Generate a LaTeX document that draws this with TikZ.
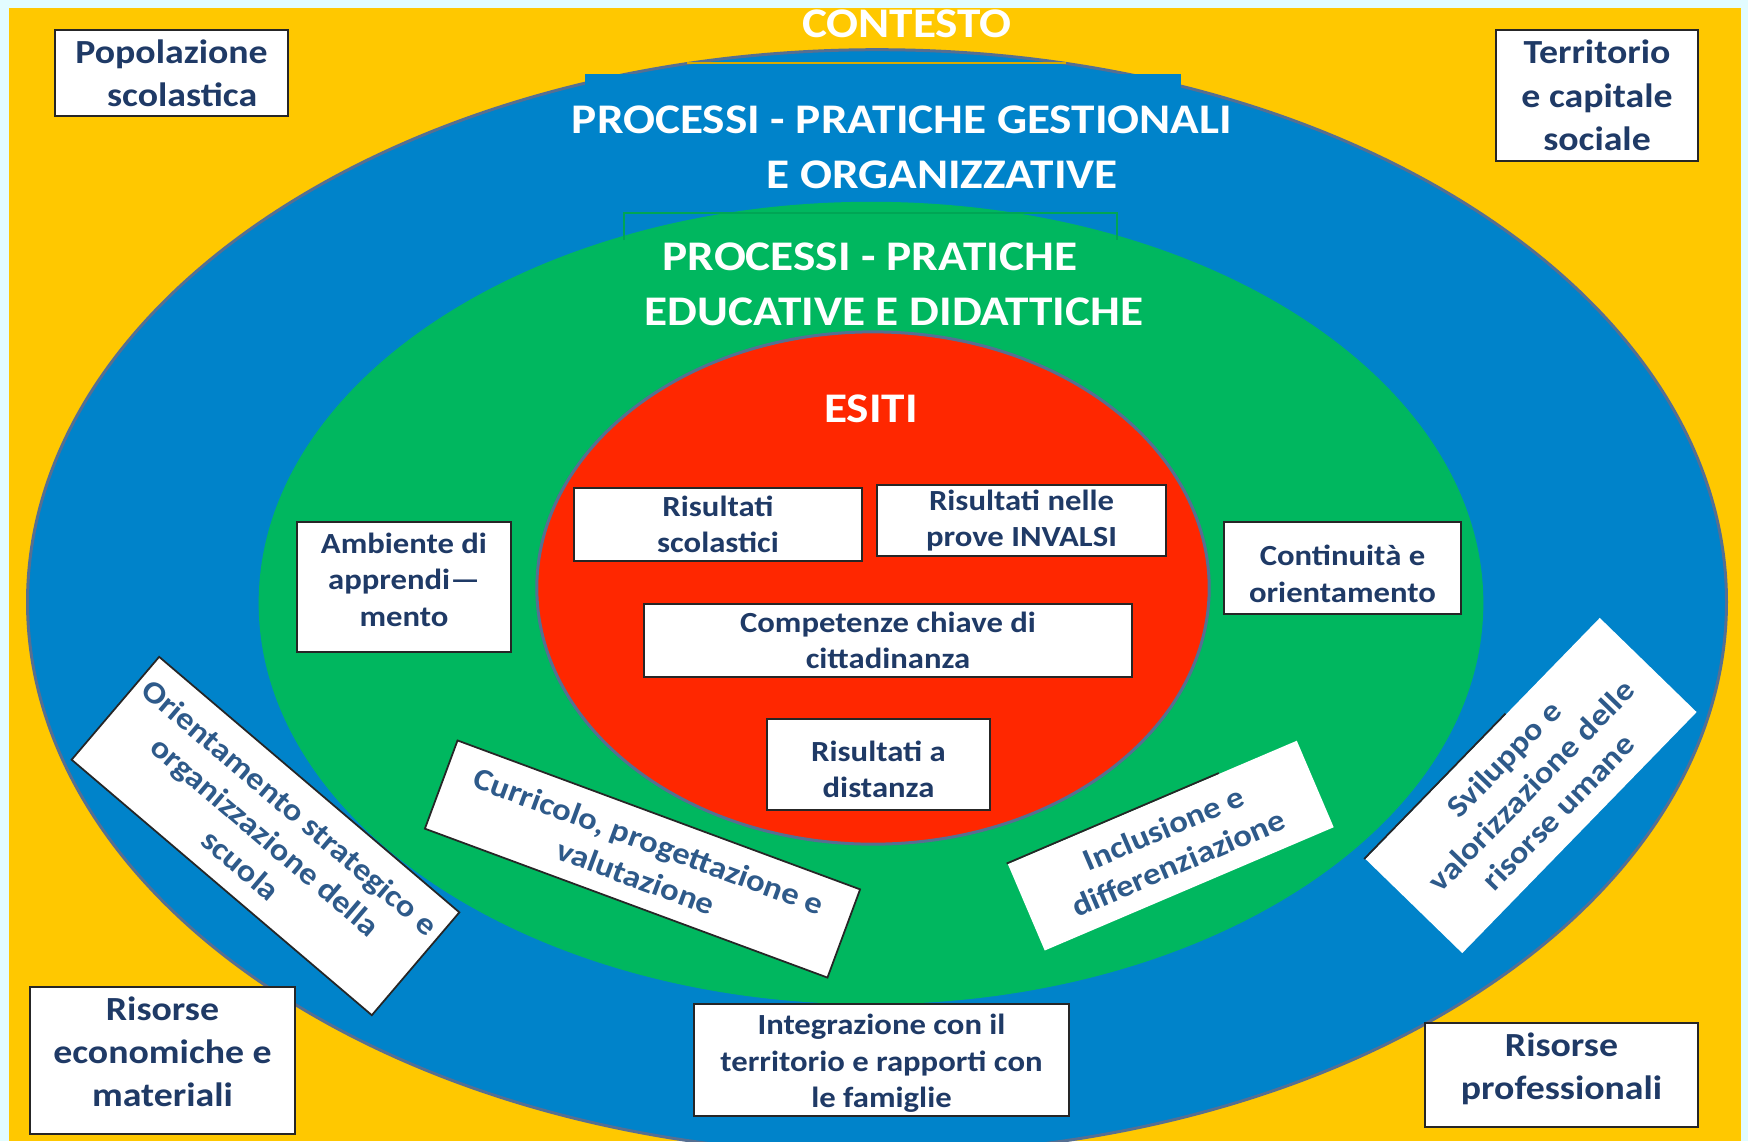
\documentclass[tikz,border=0pt]{standalone}
\usepackage{fontspec}
\setmainfont[FakeStretch=1.12]{Carlito}
\usepackage{tikz}
\usetikzlibrary{calc}

\definecolor{sfondo}{HTML}{E2FCFF}
\definecolor{colContesto}{HTML}{FFC800}
\definecolor{colGestione}{HTML}{0083CA}
\definecolor{colEducativo}{HTML}{00B75F}
\definecolor{colEsiti}{HTML}{FF2700}
\definecolor{bordo}{HTML}{566F92}
\definecolor{testo}{HTML}{1F3A66}
\definecolor{testoObliquo}{HTML}{2E5A8A}

\begin{document}
\begin{tikzpicture}[x=0.01cm, y=-0.01cm]
	\tikzset{riquadro/.style={draw=black!85, line width=0.5pt, fill=white, align=center, text=testo, inner sep=0pt, font=\fontsize{8.3}{10.4}\selectfont\bfseries},
		riquadroGrande/.style={riquadro, font=\fontsize{9.6}{12.3}\selectfont\bfseries},
		riquadroObliquo/.style={line width=0.5pt, fill=white, align=center, text=testoObliquo, inner sep=0pt, font=\fontsize{8.8}{10.8}\selectfont\bfseries},
		titolo/.style={text=white, inner sep=0pt, font=\fontsize{12}{14}\selectfont\bfseries}}
	\useasboundingbox (0,0) rectangle (1748,1141);
	% fondo e ellissi
	\fill[sfondo] (0,0) rectangle (1748,1141);
	\fill[colContesto] (9,8) rectangle (1741,1141);
	\filldraw[fill=colGestione, draw=bordo, line width=0.85pt] (877,602) ellipse [x radius=8.49cm, y radius=5.52cm];
	\fill[colGestione] (585,74) rectangle (1181,200);
	\draw[colContesto!85!black, line width=0.4pt] (687,63) -- (1066,63);
	\fill[colEducativo] (871,603) ellipse [x radius=6.12cm, y radius=4.01cm];
	\draw[colEducativo!90!black, line width=0.4pt] (624,240) |- (1117,213) -- (1117,240);
	\filldraw[fill=colEsiti, draw=bordo, line width=0.85pt] (873,588) ellipse [x radius=3.36cm, y radius=2.56cm];
	% titoli
	\node[titolo] (contesto) at (907,24) {CONTESTO};
	\node[titolo] (gestionali) at (902,120) {PROCESSI - PRATICHE GESTIONALI};
	\node[titolo] (organizzative) at (942,175) {E ORGANIZZATIVE};
	\node[titolo] (educative) at (870,257) {PROCESSI - PRATICHE};
	\node[titolo] (didattiche) at (894,312) {EDUCATIVE E DIDATTICHE};
	\node[titolo] (esiti) at (871,409) {ESITI};
	% riquadri agli angoli
	\node[riquadroGrande, minimum width=2.33cm, minimum height=0.86cm] (popolazione) at (171.5,73) {Popolazione\\\hspace*{0.63em}scolastica};
	\node[riquadroGrande, minimum width=2.02cm, minimum height=1.31cm] (territorio) at (1597,95.5) {Territorio\\e capitale\\sociale};
	\node[riquadroGrande, minimum width=2.65cm, minimum height=1.47cm] (risEconomiche) at (162.5,1060.5) {Risorse\\economiche e\\materiali\rule[-5.1pt]{0pt}{5.1pt}};
	\node[riquadroGrande, minimum width=2.73cm, minimum height=1.04cm] (risProfessionali) at (1561.5,1075) {Risorse\\professionali\rule[-4.85pt]{0pt}{4.85pt}};
	% riquadri interni
	\node[riquadro, minimum width=3.75cm, minimum height=1.12cm] (integrazione) at (881.5,1060) {\rule{0pt}{7.7pt}Integrazione con il\\territorio e rapporti con\\le famiglie};
	\node[riquadro, minimum width=2.14cm, minimum height=1.30cm] (ambiente) at (404,587) {Ambiente di\\apprendi—\\mento\rule[-4.15pt]{0pt}{4.15pt}};
	\node[riquadro, minimum width=2.88cm, minimum height=0.73cm] (risScolastici) at (718,524.5) {Risultati\\scolastici};
	\node[riquadro, minimum width=2.89cm, minimum height=0.71cm] (risInvalsi) at (1021.5,520.5) {Risultati nelle\\prove INVALSI};
	\node[riquadro, minimum width=2.37cm, minimum height=0.92cm] (continuita) at (1342.5,568) {\rule{0pt}{9.2pt}Continuità e\\orientamento};
	\node[riquadro, minimum width=4.88cm, minimum height=0.73cm] (competenze) at (888,640.5) {Competenze chiave di\\cittadinanza};
	\node[riquadro, minimum width=2.23cm, minimum height=0.91cm] (risDistanza) at (878.5,764.5) {\rule{0pt}{8.65pt}Risultati a\\distanza};
	% riquadri obliqui
	\node[riquadroObliquo, draw=black!85, minimum width=3.94cm, minimum height=1.35cm, rotate=-40.4] (orientamento) at (265.5,836) {Orientamento strategico e\\organizzazione della\\scuola};
	\node[riquadroObliquo, draw=black!85, minimum width=4.29cm, minimum height=0.94cm, rotate=-20.3] (curricolo) at (642.5,859) {Curricolo, progettazione e\\valutazione};
	\node[riquadroObliquo, minimum width=3.14cm, minimum height=0.94cm, rotate=23.1] (inclusione) at (1170.75,845.6) {Inclusione e\\differenziazione};
	\node[riquadroObliquo, minimum width=3.36cm, minimum height=1.35cm, rotate=45.8] (sviluppo) at (1531,785.5) {Sviluppo e\\valorizzazione delle\\risorse umane};
	\draw[black!85, line width=0.5pt] (inclusione.north west) -- ($(inclusione.north west)!0.73!(inclusione.north east)$);
	\draw[black!85, line width=0.5pt] (sviluppo.north west) -- ($(sviluppo.north west)!0.6!(sviluppo.north east)$);
\end{tikzpicture}
\end{document}
